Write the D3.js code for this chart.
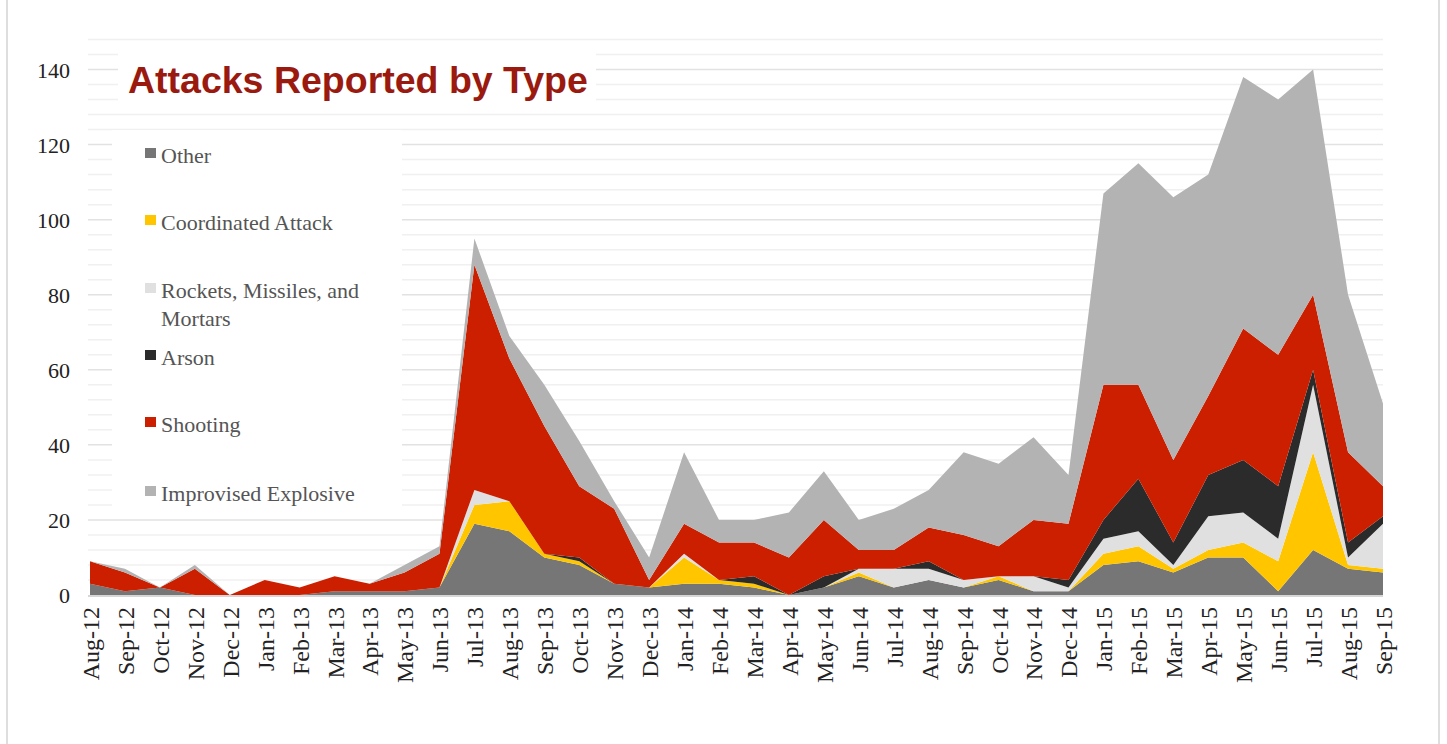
<!DOCTYPE html>
<html>
<head>
<meta charset="utf-8">
<script src="https://d3js.org/d3.v7.min.js"></script>
<style>
  html, body { margin: 0; padding: 0; background: #fff; }
  svg { display: block; }
</style>
</head>
<body>
<svg id="chart" width="1447" height="744"></svg>
<script>
// Monthly attack counts, Aug 2012 – Sep 2015
const months = [
  "Aug-12","Sep-12","Oct-12","Nov-12","Dec-12",
  "Jan-13","Feb-13","Mar-13","Apr-13","May-13","Jun-13","Jul-13","Aug-13","Sep-13","Oct-13","Nov-13","Dec-13",
  "Jan-14","Feb-14","Mar-14","Apr-14","May-14","Jun-14","Jul-14","Aug-14","Sep-14","Oct-14","Nov-14","Dec-14",
  "Jan-15","Feb-15","Mar-15","Apr-15","May-15","Jun-15","Jul-15","Aug-15","Sep-15"
];

const other       = [3,1,2,0,0, 0,0,1,1,1,2,19,17,10,8,3,2, 3,3,2,0,2,5,2,4,2,4,1,1, 8,9,6,10,10,1,12,7,6];
const coordinated = [0,0,0,0,0, 0,0,0,0,0,0,5,8,1,1,0,0, 7,1,1,0,0,1,0,0,0,1,0,0, 3,4,1,2,4,8,26,1,1];
const rockets     = [0,0,0,0,0, 0,0,0,0,0,0,4,0,0,0,0,0, 1,0,0,0,0,1,5,3,2,0,4,1, 4,4,1,9,8,6,18,2,12];
const arson       = [0,0,0,0,0, 0,0,0,0,0,0,0,0,0,1,0,0, 0,0,2,0,3,0,0,2,0,0,0,2, 5,14,6,11,14,14,4,4,2];
const shooting    = [6,5,0,7,0, 4,2,4,2,5,9,60,38,34,19,20,2, 8,10,9,10,15,5,5,9,12,8,15,15, 36,25,22,21,35,35,20,24,8];
const improvised  = [0,1,0,1,0, 0,0,0,0,2,2,7,6,11,12,2,6, 19,6,6,12,13,8,11,10,22,22,22,13, 51,59,70,59,67,68,60,42,22];

const seriesNames = ["Other","Coordinated Attack","Rockets, Missiles, and Mortars","Arson","Shooting","Improvised Explosive"];
const seriesColors = ["#767676","#ffc600","#e0e0e0","#2b2b2b","#cc1f00","#b3b3b3"];
const yTicks = [0,20,40,60,80,100,120,140];
const chartTitle = "Attacks Reported by Type";

const seriesValues = [other, coordinated, rockets, arson, shooting, improvised];
const rows = months.map((m, i) => {
  const r = { month: m };
  seriesNames.forEach((n, k) => { r[n] = seriesValues[k][i]; });
  return r;
});

const svg = d3.select("#chart");

const x = d3.scalePoint().domain(months).range([90, 1383]);
const y = d3.scaleLinear().domain([0, 148]).range([595, 39.5]);

// page frame
svg.append("line").attr("x1", 7).attr("x2", 7).attr("y1", 0).attr("y2", 744)
  .attr("stroke", "#dedede").attr("stroke-width", 2);
svg.append("line").attr("x1", 1439).attr("x2", 1439).attr("y1", 0).attr("y2", 744)
  .attr("stroke", "#dedede").attr("stroke-width", 2);

// gridlines: light every 4, stronger every 20
const grid = svg.append("g");
grid.selectAll("line.minor")
  .data(d3.range(4, 149, 4).filter(v => v % 20 !== 0))
  .join("line")
  .attr("x1", 88).attr("x2", 1383)
  .attr("y1", d => y(d)).attr("y2", d => y(d))
  .attr("stroke", "#f0f0f0").attr("stroke-width", 1.5);
grid.selectAll("line.major")
  .data(yTicks.filter(v => v > 0))
  .join("line")
  .attr("x1", 88).attr("x2", 1383)
  .attr("y1", d => y(d)).attr("y2", d => y(d))
  .attr("stroke", "#e2e2e2").attr("stroke-width", 1.5);
// baseline
svg.append("line").attr("x1", 88).attr("x2", 1383)
  .attr("y1", y(0) + 1).attr("y2", y(0) + 1)
  .attr("stroke", "#d6d6d6").attr("stroke-width", 2);

// stacked areas
const stack = d3.stack().keys(seriesNames);
const layers = stack(rows);
const area = d3.area()
  .x(d => x(d.data.month))
  .y0(d => y(d[0]))
  .y1(d => y(d[1]))
  .curve(d3.curveLinear);

svg.append("g").selectAll("path")
  .data(layers)
  .join("path")
  .attr("d", area)
  .attr("fill", (d, i) => seriesColors[i]);

// y axis labels
const yAxis = d3.axisLeft(y).tickValues(yTicks).tickSize(0).tickPadding(0);
const yg = svg.append("g").attr("transform", "translate(70,0)").call(yAxis);
yg.select(".domain").remove();
yg.selectAll("text")
  .attr("font-family", "'Liberation Serif', 'Times New Roman', serif")
  .attr("font-size", 22)
  .attr("fill", "#222")
  .attr("dy", "0.35em");

// x axis labels, rotated
const xAxis = d3.axisBottom(x).tickSize(0).tickPadding(0);
const xg = svg.append("g").attr("transform", "translate(0,607)").call(xAxis);
xg.select(".domain").remove();
xg.selectAll("text")
  .attr("font-family", "'Liberation Serif', 'Times New Roman', serif")
  .attr("font-size", 24)
  .attr("fill", "#222")
  .attr("text-anchor", "end")
  .attr("transform", "rotate(-90)")
  .attr("x", 0)
  .attr("y", 0)
  .attr("dy", "0.35em");

// title panel
svg.append("rect").attr("x", 118).attr("y", 50).attr("width", 478).attr("height", 58).attr("fill", "#fff");
svg.append("text")
  .attr("x", 128).attr("y", 93)
  .attr("font-family", "'Liberation Sans', Arial, sans-serif")
  .attr("font-weight", "bold")
  .attr("font-size", 37.5)
  .attr("fill", "#9b1a10")
  .text(chartTitle);

// legend panel
svg.append("rect").attr("x", 112).attr("y", 130).attr("width", 290).attr("height", 388).attr("fill", "#fff");
const legendRows = [
  { lines: ["Other"], y: 163 },
  { lines: ["Coordinated Attack"], y: 230 },
  { lines: ["Rockets, Missiles, and", "Mortars"], y: 298 },
  { lines: ["Arson"], y: 365 },
  { lines: ["Shooting"], y: 432 },
  { lines: ["Improvised Explosive"], y: 501 }
];
const lg = svg.append("g");
legendRows.forEach((row, i) => {
  lg.append("rect")
    .attr("x", 145).attr("y", row.y - 15)
    .attr("width", 11).attr("height", 10)
    .attr("fill", seriesColors[i]);
  row.lines.forEach((t, j) => {
    lg.append("text")
      .attr("x", 161).attr("y", row.y + j * 28)
      .attr("font-family", "'Liberation Serif', 'Times New Roman', serif")
      .attr("font-size", 22)
      .attr("fill", "#555")
      .text(t);
  });
});
</script>
</body>
</html>
